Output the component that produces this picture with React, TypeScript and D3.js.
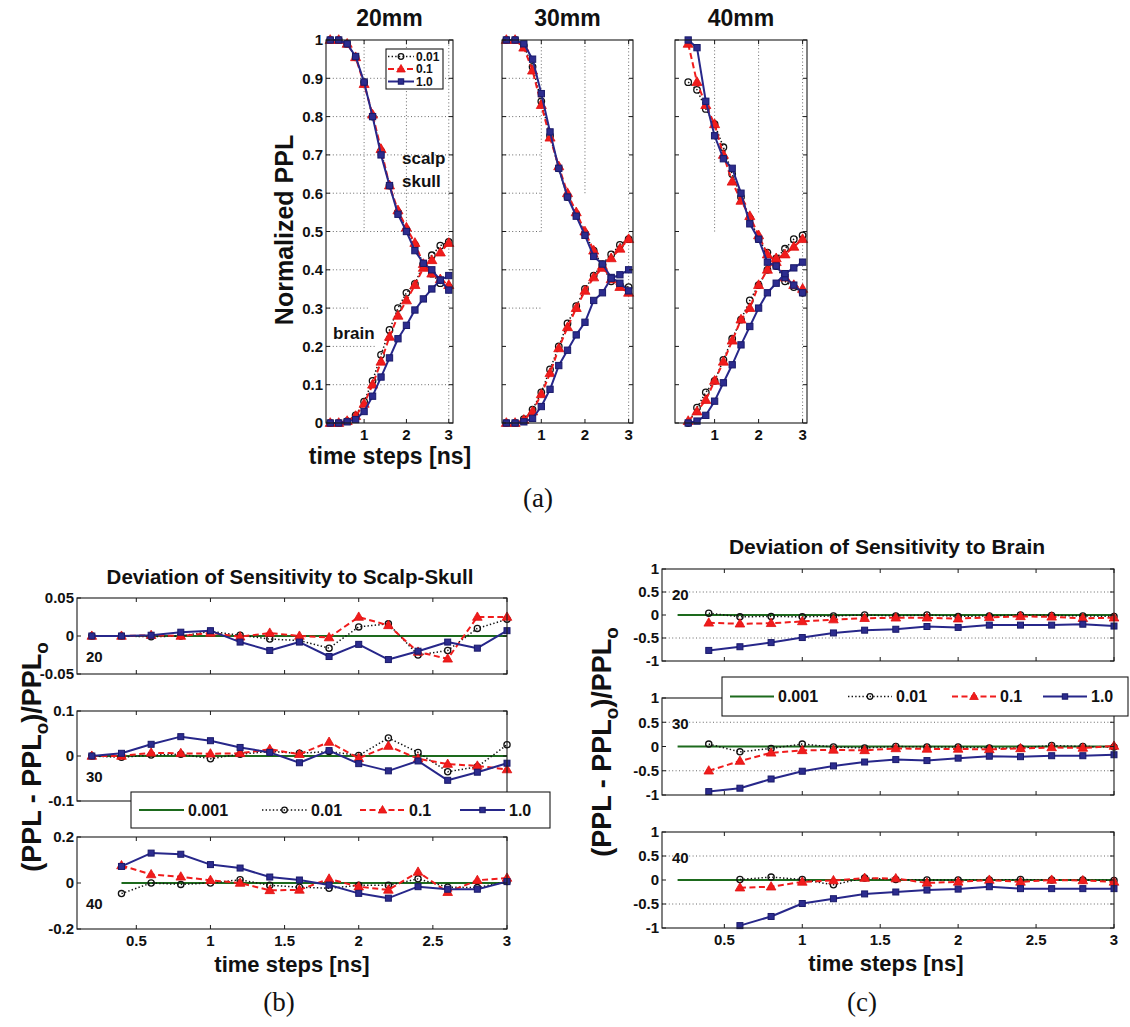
import React from "react";
import * as d3 from "d3";

// ---------------- data ----------------
const tFull = [0.2, 0.4, 0.6, 0.8, 1.0, 1.2, 1.4, 1.6, 1.8, 2.0, 2.2, 2.4, 2.6, 2.8, 3.0];
const t04 = [0.4, 0.6, 0.8, 1.0, 1.2, 1.4, 1.6, 1.8, 2.0, 2.2, 2.4, 2.6, 2.8, 3.0];
const t06 = [0.6, 0.8, 1.0, 1.2, 1.4, 1.6, 1.8, 2.0, 2.2, 2.4, 2.6, 2.8, 3.0];
const tGreen = [0.2, 3.0];
const tGreen40 = [0.4, 3.0];
const zeroPair = [0, 0];

// (a) normalized PPL, 20 mm
const a20ScalpK = [1.0, 1.0, 0.99, 0.955, 0.89, 0.8, 0.71, 0.62, 0.55, 0.505, 0.465, 0.415, 0.39, 0.365, 0.355];
const a20ScalpR = [1.0, 1.0, 0.99, 0.955, 0.885, 0.805, 0.715, 0.62, 0.555, 0.51, 0.47, 0.415, 0.39, 0.375, 0.36];
const a20ScalpB = [1.0, 1.0, 0.99, 0.957, 0.89, 0.8, 0.7, 0.62, 0.545, 0.5, 0.45, 0.417, 0.4, 0.373, 0.347];
const a20BrainK = [0, 0, 0.005, 0.02, 0.056, 0.11, 0.178, 0.243, 0.3, 0.34, 0.363, 0.415, 0.438, 0.463, 0.473];
const a20BrainR = [0, 0, 0.005, 0.018, 0.05, 0.1, 0.16, 0.225, 0.28, 0.32, 0.36, 0.405, 0.425, 0.445, 0.47];
const a20BrainB = [0, 0, 0.003, 0.009, 0.03, 0.07, 0.12, 0.17, 0.22, 0.255, 0.295, 0.324, 0.35, 0.373, 0.385];
// 30 mm
const a30ScalpK = [1.0, 1.0, 0.985, 0.93, 0.84, 0.75, 0.665, 0.59, 0.545, 0.495, 0.45, 0.41, 0.37, 0.36, 0.355];
const a30ScalpR = [1.0, 1.0, 0.98, 0.92, 0.83, 0.745, 0.67, 0.6, 0.55, 0.5, 0.45, 0.41, 0.375, 0.355, 0.34];
const a30ScalpB = [1.0, 1.0, 0.99, 0.95, 0.86, 0.76, 0.665, 0.59, 0.54, 0.49, 0.435, 0.415, 0.38, 0.365, 0.345];
const a30BrainK = [0, 0, 0.01, 0.035, 0.08, 0.14, 0.2, 0.26, 0.305, 0.35, 0.385, 0.415, 0.44, 0.465, 0.48];
const a30BrainR = [0, 0, 0.008, 0.03, 0.075, 0.13, 0.195, 0.25, 0.3, 0.345, 0.38, 0.405, 0.43, 0.455, 0.48];
const a30BrainB = [0, 0, 0.003, 0.012, 0.043, 0.088, 0.15, 0.19, 0.23, 0.263, 0.32, 0.34, 0.378, 0.387, 0.4];
// 40 mm (starts at 0.4 ns)
const a40ScalpK = [0.89, 0.87, 0.82, 0.78, 0.72, 0.65, 0.59, 0.535, 0.48, 0.445, 0.41, 0.37, 0.355, 0.34];
const a40ScalpR = [0.99, 0.89, 0.83, 0.78, 0.7, 0.63, 0.58, 0.54, 0.49, 0.44, 0.42, 0.38, 0.36, 0.35];
const a40ScalpB = [1.0, 0.98, 0.84, 0.75, 0.69, 0.665, 0.6, 0.52, 0.48, 0.42, 0.41, 0.38, 0.36, 0.34];
const a40BrainK = [0, 0.04, 0.08, 0.11, 0.165, 0.22, 0.27, 0.32, 0.36, 0.4, 0.43, 0.455, 0.48, 0.49];
const a40BrainR = [0.005, 0.03, 0.06, 0.11, 0.16, 0.215, 0.27, 0.3, 0.36, 0.4, 0.43, 0.44, 0.46, 0.48];
const a40BrainB = [0, 0.005, 0.02, 0.057, 0.105, 0.152, 0.204, 0.252, 0.3, 0.34, 0.365, 0.39, 0.405, 0.42];

// (b) deviation scalp-skull
const b20K = [0, 0, -0.001, 0, 0.006, 0.001, -0.004, -0.006, -0.016, 0.012, 0.016, -0.025, -0.019, 0.01, 0.022];
const b20R = [0, 0, 0.001, 0, 0.004, -0.001, 0.004, 0, -0.002, 0.025, 0.014, -0.021, -0.03, 0.025, 0.025];
const b20B = [0, 0, 0.001, 0.005, 0.007, -0.008, -0.019, -0.008, -0.027, -0.011, -0.031, -0.02, -0.008, -0.016, 0.007];
const b30K = [0, -0.003, 0.002, 0.004, -0.006, 0.004, 0.01, 0.006, 0.01, 0.001, 0.04, 0.008, -0.035, -0.024, 0.025];
const b30R = [0, 0, 0.007, 0.006, 0.005, 0.006, 0.015, 0.004, 0.031, -0.005, 0.022, -0.006, -0.018, -0.022, -0.03];
const b30B = [0, 0.006, 0.026, 0.043, 0.034, 0.019, 0.008, -0.015, 0.012, -0.017, -0.033, -0.011, -0.054, -0.036, -0.016];
const b40K = [-0.046, 0, -0.006, 0, 0.014, -0.01, -0.018, -0.023, -0.01, -0.01, 0.018, -0.018, -0.02, 0.006];
const b40R = [0.076, 0.037, 0.027, 0.012, 0, -0.032, -0.03, 0.018, -0.016, -0.03, 0.048, -0.04, 0.012, 0.022];
const b40B = [0.072, 0.13, 0.125, 0.08, 0.065, 0.026, 0.013, -0.009, -0.045, -0.066, -0.016, -0.027, -0.027, 0.006];

// (c) deviation brain
const c20K = [0.04, -0.04, -0.03, -0.04, -0.02, 0, -0.02, 0, -0.03, -0.02, 0, -0.01, -0.02, -0.03];
const c20R = [-0.17, -0.19, -0.18, -0.14, -0.1, -0.07, -0.06, -0.06, -0.08, -0.05, -0.03, -0.04, -0.07, -0.06];
const c20B = [-0.77, -0.69, -0.6, -0.49, -0.39, -0.33, -0.31, -0.25, -0.27, -0.22, -0.22, -0.22, -0.2, -0.24];
const c30K = [0.05, -0.11, -0.04, 0.05, -0.01, -0.03, 0, -0.01, -0.01, -0.03, -0.03, 0.02, 0, -0.01];
const c30R = [-0.5, -0.3, -0.13, -0.08, -0.07, -0.08, -0.04, -0.05, -0.05, -0.06, -0.04, -0.02, -0.03, 0.01];
const c30B = [-0.93, -0.86, -0.67, -0.51, -0.4, -0.32, -0.27, -0.29, -0.24, -0.2, -0.21, -0.19, -0.19, -0.17];
const c40K = [0.01, 0.06, 0.01, -0.1, 0.04, 0.01, 0, 0, 0, 0.01, 0, 0, -0.01];
const c40R = [-0.16, -0.14, -0.04, -0.01, 0.04, 0.03, -0.06, -0.04, 0, -0.04, 0, -0.01, -0.04];
const c40B = [-0.95, -0.76, -0.49, -0.39, -0.29, -0.25, -0.21, -0.19, -0.14, -0.18, -0.18, -0.18, -0.18];

// ticks / labels
const aYTicks = [0, 0.1, 0.2, 0.3, 0.4, 0.5, 0.6, 0.7, 0.8, 0.9, 1];
const aXTicks = [1, 2, 3];
const bcXTicks = [0.5, 1, 1.5, 2, 2.5, 3];
const b20YTicks = [-0.05, 0, 0.05];
const b30YTicks = [-0.1, 0, 0.1];
const b40YTicks = [-0.2, 0, 0.2];
const cYTicks = [-1, -0.5, 0, 0.5, 1];
const aTitles = ["20mm", "30mm", "40mm"];
const depthLabels = ["20", "30", "40"];
const legendA = [
  { kind: "k", label: "0.01" },
  { kind: "r", label: "0.1" },
  { kind: "b", label: "1.0" },
];
const legendBC = [
  { kind: "g", label: "0.001" },
  { kind: "k", label: "0.01" },
  { kind: "r", label: "0.1" },
  { kind: "b", label: "1.0" },
];

// ---------------- styles ----------------
const FONT = "'Liberation Sans', Arial, Helvetica, sans-serif";
const SERIF = "'Liberation Serif', 'DejaVu Serif', serif";
const STYLE: any = {
  g: { stroke: "#1d6a1d", dash: null, width: 1.8 },
  k: { stroke: "#111111", dash: "1.4,2.2", width: 1.5 },
  r: { stroke: "#f01c1c", dash: "6,3.5", width: 2 },
  b: { stroke: "#27278a", dash: null, width: 2 },
};

const mk = (kind: string, t: number[], v: number[]) => ({ kind, t, v });
const fmt = (v: number) => String(+v.toFixed(3));

function Marker({ kind, x, y, s = 1 }: any) {
  if (kind === "k")
    return <circle cx={x} cy={y} r={3.1 * s} fill="none" stroke="#111" strokeWidth={1.3} />;
  if (kind === "r")
    return (
      <path
        transform={`translate(${x},${y + 0.5})`}
        d={d3.symbol(d3.symbolTriangle, 40 * s * s)() as string}
        fill="#f01c1c"
        stroke="#e01010"
        strokeWidth={0.8}
      />
    );
  if (kind === "b")
    return (
      <rect x={x - 3 * s} y={y - 3 * s} width={6 * s} height={6 * s} fill="#2c2c8e" stroke="#1a1a6a" strokeWidth={1} />
    );
  return null;
}

function Plot(p: any) {
  const { x0, x1, y0, y1, xd, yd, series, xTicks, yTicks, showX, showY, hGrid = [], vGrid = [], ms = 1, tickFs = 15, xLabY } = p;
  const xs = d3.scaleLinear().domain(xd).range([x0, x1]);
  const ys = d3.scaleLinear().domain(yd).range([y1, y0]);
  const tl = 4;
  const dotted = { stroke: "#444", strokeWidth: 0.8, strokeDasharray: "1,2.4" };
  return (
    <g>
      {hGrid.map((g: number[], i: number) => (
        <line key={"hg" + i} x1={xs(g[1])} x2={xs(g[2])} y1={ys(g[0])} y2={ys(g[0])} {...dotted} />
      ))}
      {vGrid.map((g: number[], i: number) => (
        <line key={"vg" + i} x1={xs(g[0])} x2={xs(g[0])} y1={ys(g[1])} y2={ys(g[2])} {...dotted} />
      ))}
      {series.map((s: any, si: number) => {
        const st = STYLE[s.kind];
        const pts = s.t.map((t: number, i: number) => [t, s.v[i]] as [number, number]);
        const gen = d3
          .line<[number, number]>()
          .x((d) => xs(d[0]))
          .y((d) => ys(d[1]));
        return (
          <g key={"s" + si}>
            <path d={gen(pts) as string} fill="none" stroke={st.stroke} strokeWidth={st.width} strokeDasharray={st.dash || undefined} strokeLinejoin="round" />
            {s.kind !== "g" && pts.map((d: number[], i: number) => <Marker key={i} kind={s.kind} x={xs(d[0])} y={ys(d[1])} s={ms} />)}
          </g>
        );
      })}
      <rect x={x0} y={y0} width={x1 - x0} height={y1 - y0} fill="none" stroke="#1a1a1a" strokeWidth={1.1} />
      {yTicks.map((v: number, i: number) => (
        <g key={"yt" + i}>
          <line x1={x0} x2={x0 + tl} y1={ys(v)} y2={ys(v)} stroke="#1a1a1a" />
          <line x1={x1} x2={x1 - tl} y1={ys(v)} y2={ys(v)} stroke="#1a1a1a" />
          {showY && (
            <text x={x0 - 3} y={ys(v)} dy="0.36em" textAnchor="end" fontFamily={FONT} fontWeight="bold" fontSize={tickFs} fill="#111">
              {fmt(v)}
            </text>
          )}
        </g>
      ))}
      {xTicks.map((v: number, i: number) => (
        <g key={"xt" + i}>
          <line x1={xs(v)} x2={xs(v)} y1={y1} y2={y1 - tl} stroke="#1a1a1a" />
          <line x1={xs(v)} x2={xs(v)} y1={y0} y2={y0 + tl} stroke="#1a1a1a" />
          {showX && (
            <text x={xs(v)} y={xLabY} textAnchor="middle" fontFamily={FONT} fontWeight="bold" fontSize={tickFs} fill="#111">
              {fmt(v)}
            </text>
          )}
        </g>
      ))}
    </g>
  );
}

function LegendRow({ entries, x0, y0, x1, y1, lineStarts, lineLen, fs, textGap }: any) {
  const cy = (y0 + y1) / 2;
  return (
    <g>
      <rect x={x0} y={y0} width={x1 - x0} height={y1 - y0} fill="white" stroke="#1a1a1a" strokeWidth={1.1} />
      {entries.map((e: any, i: number) => {
        const st = STYLE[e.kind];
        const lx = lineStarts[i];
        return (
          <g key={i}>
            <line x1={lx} x2={lx + lineLen} y1={cy} y2={cy} stroke={st.stroke} strokeWidth={st.width} strokeDasharray={st.dash || undefined} />
            <Marker kind={e.kind} x={lx + lineLen / 2} y={cy} s={0.9} />
            <text x={lx + lineLen + textGap} y={cy} dy="0.36em" fontFamily={FONT} fontWeight="bold" fontSize={fs} fill="#111">
              {e.label}
            </text>
          </g>
        );
      })}
    </g>
  );
}

function PPLLabel({ x, y, fs }: any) {
  return (
    <text transform={`translate(${x},${y}) rotate(-90)`} textAnchor="middle" fontFamily={FONT} fontWeight="bold" fontSize={fs} fill="#111">
      (PPL - PPL
      <tspan dy={fs * 0.25} fontSize={fs * 0.7}>o</tspan>
      <tspan dy={-fs * 0.25}>)/PPL</tspan>
      <tspan dy={fs * 0.25} fontSize={fs * 0.7}>o</tspan>
    </text>
  );
}

export default function App() {
  // panel (a) geometry
  const aBoxes = [
    { x0: 326, x1: 453 },
    { x0: 502, x1: 633 },
    { x0: 675, x1: 807 },
  ];
  const aY0 = 40,
    aY1 = 423;
  const aSeries = [
    [
      mk("k", tFull, a20ScalpK), mk("k", tFull, a20BrainK),
      mk("r", tFull, a20ScalpR), mk("r", tFull, a20BrainR),
      mk("b", tFull, a20ScalpB), mk("b", tFull, a20BrainB),
    ],
    [
      mk("k", tFull, a30ScalpK), mk("k", tFull, a30BrainK),
      mk("r", tFull, a30ScalpR), mk("r", tFull, a30BrainR),
      mk("b", tFull, a30ScalpB), mk("b", tFull, a30BrainB),
    ],
    [
      mk("k", t04, a40ScalpK), mk("k", t04, a40BrainK),
      mk("r", t04, a40ScalpR), mk("r", t04, a40BrainR),
      mk("b", t04, a40ScalpB), mk("b", t04, a40BrainB),
    ],
  ];
  const aH = [
    [[0.9, 0.1, 3.1], [0.8, 0.1, 3.1], [0.7, 0.1, 3.1], [0.6, 0.1, 3.1], [0.5, 0.1, 3.1], [0.4, 0.1, 1.1], [0.3, 0.1, 1.1], [0.2, 0.1, 1.25], [0.1, 0.1, 3.1]],
    [[0.9, 0.1, 1.0], [0.8, 0.1, 1.0], [0.7, 0.1, 1.0], [0.6, 0.1, 1.0], [0.5, 0.1, 1.0], [0.4, 0.1, 1.0], [0.3, 0.1, 1.0]],
    [],
  ];
  const aV = [
    [[1, 0.5, 1], [2, 0.5, 1], [3, 0, 1]],
    [[1, 0.5, 1], [2, 0.6, 1], [3, 0, 1]],
    [[1, 0.5, 1], [2, 0.55, 1], [3, 0, 1]],
  ];

  // panel (b) geometry
  const bX0 = 77,
    bX1 = 507;
  const bRows = [
    { y0: 598, y1: 674, yd: [-0.05, 0.05], ticks: b20YTicks, s: [mk("g", tGreen, zeroPair), mk("k", tFull, b20K), mk("r", tFull, b20R), mk("b", tFull, b20B)] },
    { y0: 711, y1: 801, yd: [-0.1, 0.1], ticks: b30YTicks, s: [mk("g", tGreen, zeroPair), mk("k", tFull, b30K), mk("r", tFull, b30R), mk("b", tFull, b30B)] },
    { y0: 837, y1: 929, yd: [-0.2, 0.2], ticks: b40YTicks, s: [mk("g", tGreen40, zeroPair), mk("k", t04, b40K), mk("r", t04, b40R), mk("b", t04, b40B)] },
  ];
  // panel (c) geometry
  const cX0 = 662,
    cX1 = 1114;
  const cRows = [
    { y0: 569, y1: 661, s: [mk("g", tGreen, zeroPair), mk("k", t04, c20K), mk("r", t04, c20R), mk("b", t04, c20B)] },
    { y0: 698, y1: 795, s: [mk("g", tGreen, zeroPair), mk("k", t04, c30K), mk("r", t04, c30R), mk("b", t04, c30B)] },
    { y0: 832, y1: 928, s: [mk("g", tGreen, zeroPair), mk("k", t06, c40K), mk("r", t06, c40R), mk("b", t06, c40B)] },
  ];
  const cGrid = [[0.5, 0.1, 3], [-0.5, 0.1, 3]];

  return (
    <svg width={1130} height={1027} style={{ position: "absolute", left: 0, top: 0, background: "white" }}>
      <rect x={0} y={0} width={1130} height={1027} fill="white" />
      {/* ---------- (a) ---------- */}
      {aBoxes.map((b, i) => (
        <g key={"a" + i}>
          <Plot
            x0={b.x0} x1={b.x1} y0={aY0} y1={aY1} xd={[0.1, 3.1]} yd={[0, 1]}
            series={aSeries[i]} xTicks={aXTicks} yTicks={aYTicks}
            showX={true} showY={i === 0} hGrid={aH[i]} vGrid={aV[i]} ms={1.05} xLabY={440}
          />
          <text x={(b.x0 + b.x1) / 2} y={26} textAnchor="middle" fontFamily={FONT} fontWeight="bold" fontSize={23} fill="#111">
            {aTitles[i]}
          </text>
        </g>
      ))}
      <g>
        <rect x={386} y={49} width={57} height={40} fill="white" stroke="#1a1a1a" strokeWidth={1.1} />
        {legendA.map((e, i) => {
          const st = STYLE[e.kind];
          const cy = 56.5 + i * 12.5;
          return (
            <g key={i}>
              <line x1={388} x2={414} y1={cy} y2={cy} stroke={st.stroke} strokeWidth={st.width} strokeDasharray={st.dash || undefined} />
              <Marker kind={e.kind} x={401} y={cy} s={0.9} />
              <text x={416} y={cy} dy="0.36em" fontFamily={FONT} fontWeight="bold" fontSize={12} fill="#111">
                {e.label}
              </text>
            </g>
          );
        })}
      </g>
      <text x={402} y={164} fontFamily={FONT} fontWeight="bold" fontSize={17} fill="#111">scalp</text>
      <text x={402} y={187} fontFamily={FONT} fontWeight="bold" fontSize={17} fill="#111">skull</text>
      <text x={333} y={339} fontFamily={FONT} fontWeight="bold" fontSize={17} fill="#111">brain</text>
      <text transform="translate(293,230) rotate(-90)" textAnchor="middle" fontFamily={FONT} fontWeight="bold" fontSize={25} fill="#111">
        Normalized PPL
      </text>
      <text x={390} y={464} textAnchor="middle" fontFamily={FONT} fontWeight="bold" fontSize={23} fill="#111">
        time steps [ns]
      </text>
      <text x={538} y={507} textAnchor="middle" fontFamily={SERIF} fontSize={27} fill="#111">(a)</text>

      {/* ---------- (b) ---------- */}
      <text x={290} y={584} textAnchor="middle" fontFamily={FONT} fontWeight="bold" fontSize={20.5} fill="#111">
        Deviation of Sensitivity to Scalp-Skull
      </text>
      {bRows.map((r, i) => (
        <g key={"b" + i}>
          <Plot
            x0={bX0} x1={bX1} y0={r.y0} y1={r.y1} xd={[0.1, 3]} yd={r.yd}
            series={r.s} xTicks={bcXTicks} yTicks={r.ticks} showX={i === 2} showY={true} ms={1} xLabY={946}
          />
          <text x={86} y={(r.y0 + r.y1) / 2 + 26} fontFamily={FONT} fontWeight="bold" fontSize={15} fill="#111">
            {depthLabels[i]}
          </text>
        </g>
      ))}
      <LegendRow entries={legendBC} x0={131} y0={792} x1={550} y1={828} lineStarts={[139, 262, 360, 460]} lineLen={45} fs={16} textGap={4} />
      <PPLLabel x={41} y={757} fs={27} />
      <text x={292} y={972} textAnchor="middle" fontFamily={FONT} fontWeight="bold" fontSize={22} fill="#111">
        time steps [ns]
      </text>
      <text x={279} y={1011} textAnchor="middle" fontFamily={SERIF} fontSize={27} fill="#111">(b)</text>

      {/* ---------- (c) ---------- */}
      <text x={887} y={554} textAnchor="middle" fontFamily={FONT} fontWeight="bold" fontSize={21} fill="#111">
        Deviation of Sensitivity to Brain
      </text>
      {cRows.map((r, i) => (
        <g key={"c" + i}>
          <Plot
            x0={cX0} x1={cX1} y0={r.y0} y1={r.y1} xd={[0.1, 3]} yd={[-1, 1]}
            series={r.s} xTicks={bcXTicks} yTicks={cYTicks} showX={i === 2} showY={true} hGrid={cGrid} ms={1} xLabY={945}
          />
          <text x={672} y={r.y0 + 31} fontFamily={FONT} fontWeight="bold" fontSize={15} fill="#111">
            {depthLabels[i]}
          </text>
        </g>
      ))}
      <LegendRow entries={legendBC} x0={722} y0={677} x1={1128} y1={716} lineStarts={[730, 848, 952, 1043]} lineLen={44} fs={16} textGap={4} />
      <PPLLabel x={611} y={742} fs={27} />
      <text x={886} y={971} textAnchor="middle" fontFamily={FONT} fontWeight="bold" fontSize={22} fill="#111">
        time steps [ns]
      </text>
      <text x={862} y={1011} textAnchor="middle" fontFamily={SERIF} fontSize={27} fill="#111">(c)</text>
    </svg>
  );
}
